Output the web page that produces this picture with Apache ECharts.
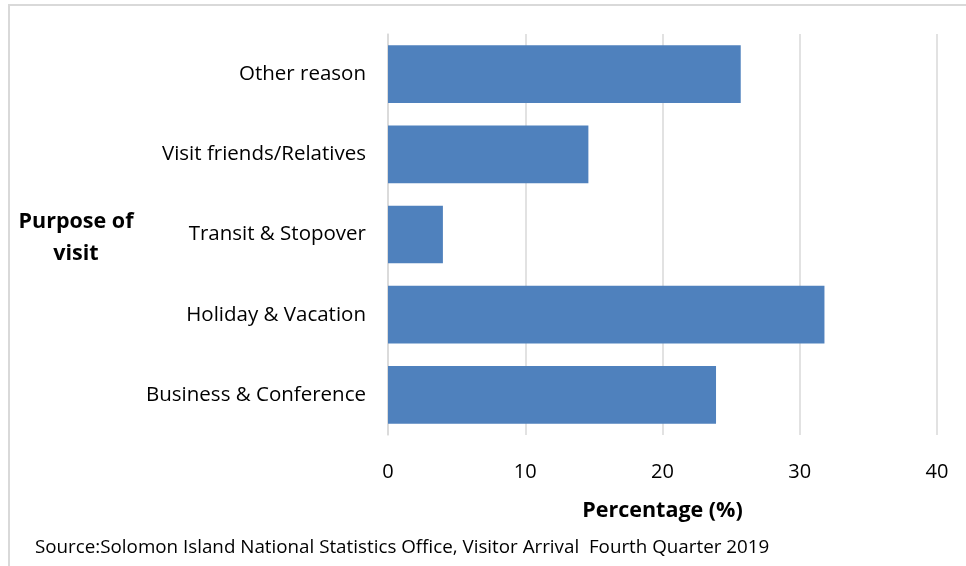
<!DOCTYPE html>
<html><head><meta charset="utf-8">
<script src="https://cdn.jsdelivr.net/npm/echarts@6/dist/echarts.min.js"></script>
<style>html,body{margin:0;padding:0;background:#fff}#c{width:966px;height:566px}</style>
</head><body><div id="c"></div>
<script>
const categories = ["Other reason", "Visit friends/Relatives", "Transit & Stopover", "Holiday & Vacation", "Business & Conference"];
const values = [25.7, 14.6, 4.0, 31.8, 23.9];
const xTicks = [0, 10, 20, 30, 40];
const FONT = "Open Sans";
const chart = echarts.init(document.getElementById('c'));
chart.setOption({
  animation: false,
  textStyle: {fontFamily: FONT},
  grid: {left: 388, right: 29, top: 34, bottom: 131, containLabel: false},
  xAxis: {
    type: 'value', min: xTicks[0], max: xTicks[xTicks.length-1], interval: 10,
    axisLine: {show: false}, axisTick: {show: false},
    splitLine: {lineStyle: {color: '#d9d9d9', width: 1.5}},
    axisLabel: {color: '#000', fontSize: 20, margin: 27, fontFamily: FONT},
    name: 'Percentage (%)', nameLocation: 'middle', nameGap: 65,
    nameTextStyle: {color: '#000', fontSize: 21.5, fontWeight: 'bold', fontFamily: FONT}
  },
  yAxis: {
    type: 'category', data: categories, inverse: true,
    axisLine: {show: true, lineStyle: {color: '#d9d9d9', width: 1.5}},
    axisTick: {show: false},
    axisLabel: {color: '#000', fontSize: 20.5, margin: 22, fontFamily: FONT}
  },
  series: [{type: 'bar', data: values, barCategoryGap: '28%', itemStyle: {color: '#4f81bd'}}],
  graphic: [
    {type: 'rect', shape: {x: 9, y: 5, width: 970, height: 600}, style: {fill: 'none', stroke: '#d9d9d9', lineWidth: 2}},
    {type: 'text', x: 76, y: 222, style: {text: 'Purpose of', fill: '#000', font: 'bold 21.5px ' + FONT, textAlign: 'center', textVerticalAlign: 'middle'}},
    {type: 'text', x: 76, y: 254, style: {text: 'visit', fill: '#000', font: 'bold 21.5px ' + FONT, textAlign: 'center', textVerticalAlign: 'middle'}},
    {type: 'text', x: 35, y: 548, style: {text: 'Source:Solomon Island National Statistics Office, Visitor Arrival  Fourth Quarter 2019', fill: '#000', font: '18.8px ' + FONT, textVerticalAlign: 'middle'}}
  ]
});
</script></body></html>
